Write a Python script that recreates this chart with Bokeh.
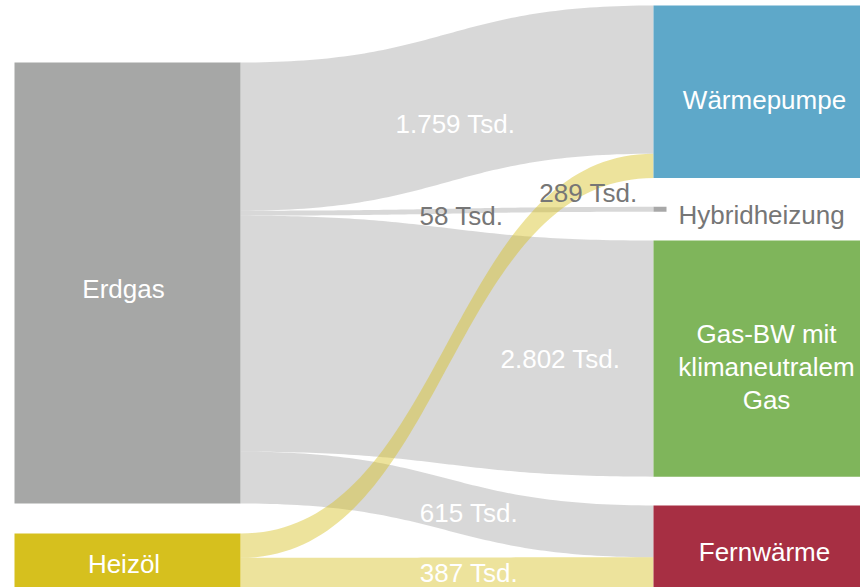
import numpy as np
from bokeh.plotting import figure
from bokeh.models import Range1d
from bokeh.core.properties import value
from bokeh.embed import file_html
from bokeh.resources import INLINE

# ---------------- data ----------------
sources = ["Erdgas", "Heizöl"]
targets = ["Wärmepumpe", "Hybridheizung", "Gas-BW mit\nklimaneutralem\nGas", "Fernwärme"]
flow_from = ["Erdgas", "Erdgas", "Erdgas", "Erdgas", "Heizöl", "Heizöl"]
flow_to = ["Wärmepumpe", "Hybridheizung", "Gas-BW mit\nklimaneutralem\nGas", "Fernwärme",
           "Wärmepumpe", "Fernwärme"]
flow_values = [1759, 58, 2802, 615, 289, 387]
unit = "Tsd."

# ---------------- styles ----------------
node_colors = {
    "Erdgas": "#a6a7a6",
    "Heizöl": "#d6c01e",
    "Wärmepumpe": "#5ea8c9",
    "Hybridheizung": "#a8a8a8",
    "Gas-BW mit\nklimaneutralem\nGas": "#7fb55b",
    "Fernwärme": "#a72f43",
}
FONT = value("Liberation Sans")
FS = "26px"
WHITE = "#ffffff"
GREY_TXT = "#767676"
FLOW_ALPHA = 0.44
TXT_SHIFT = -9  # baseline correction

# ---------------- layout ----------------
LEFT_X0, NODE_W, RIGHT_X0 = 14, 226, 653
HYBRID_W = 13
LEFT_TOP, LEFT_GAP = 62, 30
RIGHT_TOP, RIGHT_GAP = 5, 28.8

src_tot = {s: sum(v for f, v in zip(flow_from, flow_values) if f == s) for s in sources}
tgt_tot = {t: sum(v for f, v in zip(flow_to, flow_values) if f == t) for t in targets}
k = 441.0 / max(src_tot.values())

nodes = {}
y = LEFT_TOP
for s in sources:
    h = src_tot[s] * k
    nodes[s] = (LEFT_X0, LEFT_X0 + NODE_W, y, y + h)
    y += h + LEFT_GAP
y = RIGHT_TOP
for t in targets:
    h = tgt_tot[t] * k
    w = HYBRID_W if t == "Hybridheizung" else NODE_W
    nodes[t] = (RIGHT_X0, RIGHT_X0 + w, y, y + h)
    y += h + RIGHT_GAP

# flow positions within nodes
src_off = {s: nodes[s][2] for s in sources}
tgt_off = {t: nodes[t][2] for t in targets}
flows = []
for f, t, v in zip(flow_from, flow_to, flow_values):
    h = v * k
    y0 = src_off[f]; src_off[f] += h
    flows.append([f, t, v, y0, y0 + h])
for t in targets:
    for fl in flows:
        if fl[1] == t:
            fl.append(tgt_off[t]); fl.append(tgt_off[t] + fl[2] * k)
            tgt_off[t] += fl[2] * k


def bez(x0, y0, x1, y1, t):
    xm = (x0 + x1) / 2
    x = (1 - t) ** 3 * x0 + 3 * (1 - t) ** 2 * t * xm + 3 * (1 - t) * t ** 2 * xm + t ** 3 * x1
    yy = (1 - t) ** 3 * y0 + 3 * (1 - t) ** 2 * t * y0 + 3 * (1 - t) * t ** 2 * y1 + t ** 3 * y1
    return x, yy


tt = np.linspace(0, 1, 80)
X0 = LEFT_X0 + NODE_W
X1 = RIGHT_X0
xs, ys, fc = [], [], []
order = sorted(range(len(flows)), key=lambda i: sources.index(flows[i][0]))
for i in order:
    f, t, v, a0, a1, b0, b1 = flows[i]
    xt, yt = bez(X0, a0, X1, b0, tt)
    xb, yb = bez(X0, a1, X1, b1, tt)
    xs.append(list(xt) + list(xb[::-1]))
    ys.append(list(yt) + list(yb[::-1]))
    fc.append(node_colors[f])

p = figure(width=860, height=587, x_range=Range1d(0, 860), y_range=Range1d(587, 0),
           output_backend="svg", toolbar_location=None, min_border=0,
           x_axis_type=None, y_axis_type=None)
p.outline_line_color = None
p.grid.visible = False
p.background_fill_color = "white"
p.border_fill_color = "white"

p.patches(xs=xs, ys=ys, fill_color=fc, fill_alpha=FLOW_ALPHA, line_color=None)

names = sources + targets
p.quad(left=[nodes[n][0] for n in names], right=[nodes[n][1] for n in names],
       top=[nodes[n][2] for n in names], bottom=[nodes[n][3] for n in names],
       fill_color=[node_colors[n] for n in names], line_color=None)

# ---------------- node labels ----------------
node_lbl = {  # dx, dy(baseline from node centre), align, colour
    "Erdgas": (-4, 15.2, "center", WHITE),
    "Heizöl": (-3.5, 11, "center", WHITE),
    "Wärmepumpe": (-2, 17.7, "center", WHITE),
    "Hybridheizung": (0, 15, "left", GREY_TXT),
    "Gas-BW mit\nklimaneutralem\nGas": (0, 17, "center", WHITE),
    "Fernwärme": (-2, 13.5, "center", WHITE),
}
LINE_H = 33
for n in names:
    dx, dy, al, col = node_lbl[n]
    x0, x1, y0, y1 = nodes[n]
    cx = (x0 + x1) / 2 + dx if al == "center" else x1 + 12
    cy = (y0 + y1) / 2 + dy + TXT_SHIFT
    lines = n.split("\n")
    m = (len(lines) - 1) / 2
    p.text(x=[cx] * len(lines), y=[cy + (j - m) * LINE_H for j in range(len(lines))], text=lines,
           text_font=FONT, text_font_size=FS, text_color=col,
           text_align=al, text_baseline="alphabetic")

# ---------------- flow labels ----------------
flow_lbl = [  # t along band, dx, dy (baseline), colour
    (0.5, 8.5, 25.1, WHITE),
    (0.5, 14.5, 13.6, GREY_TXT),
    (0.5, 113.5, 21.7, WHITE),
    (0.5, 22, 17.7, WHITE),
    (1.0, -65, 36.3, GREY_TXT),
    (0.5, 22, 8.4, WHITE),
]
for fl, (t, dx, dy, col) in zip(flows, flow_lbl):
    f, tg, v, a0, a1, b0, b1 = fl
    bx, by = bez(X0, (a0 + a1) / 2, X1, (b0 + b1) / 2, t)
    txt = format(v, ",").replace(",", ".") + " " + unit
    p.text(x=[bx + dx], y=[by + dy + TXT_SHIFT], text=[txt], text_font=FONT, text_font_size=FS,
           text_color=col, text_align="center", text_baseline="alphabetic")

open("out.html", "w").write(file_html(p, INLINE))
